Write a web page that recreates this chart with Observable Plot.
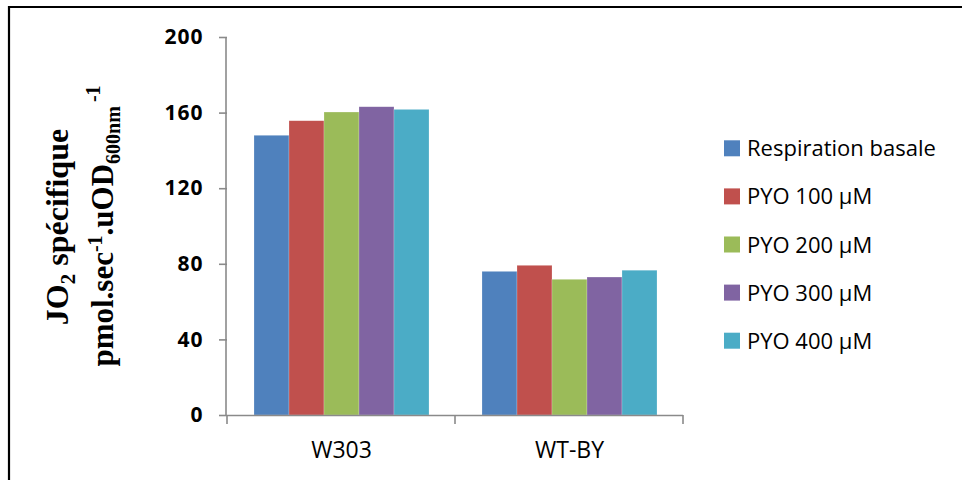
<!DOCTYPE html>
<html><head><meta charset="utf-8">
<script src="https://cdn.jsdelivr.net/npm/d3@7"></script>
<script src="https://cdn.jsdelivr.net/npm/@observablehq/plot@0.6"></script>
<style>
body{margin:0;background:#fff}
#c{position:relative;width:962px;height:480px;overflow:hidden}
</style>
</head><body><div id="c"></div>
<script>
const groups = ["W303", "WT-BY"];
const series = ["Respiration basale", "PYO 100 µM", "PYO 200 µM", "PYO 300 µM", "PYO 400 µM"];
const valuesW303 = [148, 155.7, 160.3, 163.1, 161.7];
const valuesWTBY = [76, 79.2, 71.8, 73, 76.6];
const colors = ["#4F81BD", "#C0504D", "#9BBB59", "#8064A2", "#4BACC6"];
const yTicks = [0, 40, 80, 120, 160, 200];

const rows = [];
series.forEach((s, i) => {
  rows.push({group: groups[0], series: s, value: valuesW303[i]});
  rows.push({group: groups[1], series: s, value: valuesWTBY[i]});
});

const W = 962, H = 480;
const mL = 226, mR = 279, mT = 37, mB = 65;

const plot = Plot.plot({
  width: W, height: H,
  marginLeft: mL, marginRight: mR, marginTop: mT, marginBottom: mB,
  style: {fontFamily: "'Open Sans', sans-serif", background: "white", color: "black"},
  fx: {domain: groups, padding: 0, label: null},
  x: {domain: series, paddingInner: 0, paddingOuter: 0.75, axis: null},
  y: {domain: [0, 200], ticks: yTicks, label: null},
  color: {domain: series, range: colors},
  marks: [
    Plot.barY(rows, {fx: "group", x: "series", y: "value", fill: "series", stroke: "white", strokeOpacity: 0.35, strokeWidth: 0.6}),
    Plot.ruleY([0], {stroke: "#8a8a8a", strokeWidth: 1.6}),
    Plot.axisY({ticks: yTicks, tickSize: 8, tickPadding: 16, fontSize: 21, fontWeight: "bold", stroke: "#8a8a8a", strokeWidth: 1.6, label: null, tickFormat: d => String(d)}),
    Plot.axisFx({anchor: "bottom", tickSize: 0, tickPadding: 26, fontSize: 23, label: null})
  ]
});

document.getElementById("c").appendChild(plot);

const svg = d3.select(plot);
svg.selectAll("[aria-label='y-axis tick label'] text").attr("letter-spacing", 1);
const y = plot.scale("y");
const fx = plot.scale("fx");
const y0 = y.apply(0), yTop = y.apply(200);

// y axis line
svg.append("line").attr("x1", mL).attr("x2", mL).attr("y1", yTop).attr("y2", y0)
  .attr("stroke", "#8a8a8a").attr("stroke-width", 1.6);
// category boundary ticks
const bounds = groups.map(g => fx.apply(g)).concat([fx.apply(groups[groups.length - 1]) + fx.bandwidth]);
bounds.forEach(bx => {
  svg.append("line").attr("x1", bx).attr("x2", bx).attr("y1", y0).attr("y2", y0 + 9)
    .attr("stroke", "#8a8a8a").attr("stroke-width", 1.6);
});

// y label (two lines, rotated)
const lab = svg.append("g").attr("transform", "rotate(-90)")
  .attr("font-family", "'Liberation Serif', 'Times New Roman', serif")
  .attr("font-weight", "bold").attr("font-size", 32).attr("fill", "black");
const t1 = lab.append("text").attr("x", -227).attr("y", 68).attr("text-anchor", "middle");
t1.append("tspan").text("JO");
t1.append("tspan").attr("font-size", 21).attr("dy", 7).text("2");
t1.append("tspan").attr("dy", -7).text(" spécifique");
const t2 = lab.append("text").attr("x", -226).attr("y", 113).attr("text-anchor", "middle").attr("font-size", 31);
t2.append("tspan").text("pmol.sec");
t2.append("tspan").attr("font-size", 20).attr("dy", -11).text("-1");
t2.append("tspan").attr("dy", 11).text(".uOD");
t2.append("tspan").attr("font-size", 20).attr("dy", 7).text("600nm");
t2.append("tspan").attr("font-size", 20).attr("dy", -20).attr("dx", 4).text("-1");

// legend
const leg = svg.append("g").attr("font-family", "'Open Sans', sans-serif").attr("font-size", 22).attr("text-anchor", "start");
series.forEach((s, i) => {
  const cy = 148.3 + i * 48.1;
  leg.append("rect").attr("x", 724).attr("y", cy - 8).attr("width", 16).attr("height", 16).attr("fill", colors[i]);
  leg.append("text").attr("x", 747).attr("y", cy + 8).attr("fill", "black").text(s);
});

// outer frame (top and left edges visible)
svg.append("path").attr("d", `M9,${H} L9,7 L${W},7`).attr("fill", "none").attr("stroke", "black").attr("stroke-width", 2.2);
</script>
</body></html>
